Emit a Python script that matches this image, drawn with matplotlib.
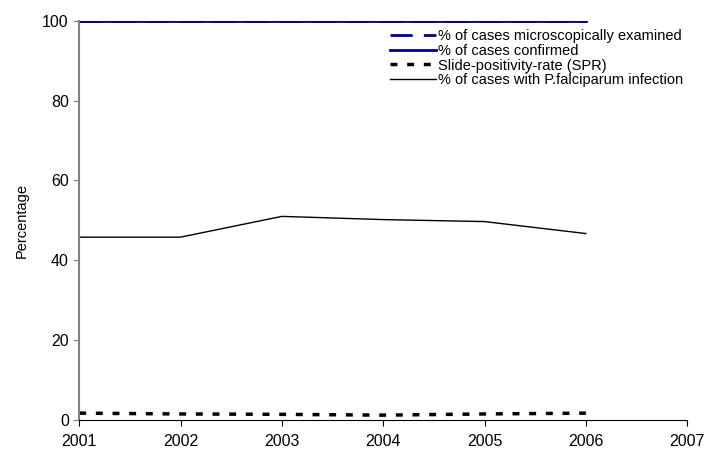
import matplotlib.pyplot as plt

plt.rcParams['font.family'] = ['Liberation Sans', 'DejaVu Sans']

years = [2001, 2002, 2003, 2004, 2005, 2006]
pct_examined = [100, 100, 100, 100, 100, 100]
pct_confirmed = [100, 100, 100, 100, 100, 100]
spr = [1.7, 1.5, 1.4, 1.2, 1.5, 1.7]
pct_pf = [45.8, 45.8, 51.0, 50.2, 49.7, 46.7]

fig = plt.figure(figsize=(7.07, 4.53), dpi=100)
ax = fig.add_axes([0.112, 0.073, 0.86, 0.881])

ax.plot(years, pct_examined, color='#00008B', linestyle=(0, (8, 4)), linewidth=2.0,
        label='% of cases microscopically examined')
ax.plot(years, pct_confirmed, color='#00008B', linewidth=2.0,
        label='% of cases confirmed')
ax.plot(years, spr, color='black', linestyle=(0, (2, 2.8)), linewidth=2.5,
        label='Slide-positivity-rate (SPR)')
ax.plot(years, pct_pf, color='black', linewidth=1,
        label='% of cases with P.falciparum infection')

ax.set_xlim(2001, 2007)
ax.set_ylim(0, 100)
ax.set_xticks(range(2001, 2008))
ax.set_yticks(range(0, 101, 20))
ax.set_ylabel('Percentage', fontsize=10.5, labelpad=10)
ax.tick_params(labelsize=11.5, length=4, color='#808080')
ax.tick_params(axis='x', pad=6, color='black')

for s in ['top', 'right']:
    ax.spines[s].set_visible(False)
ax.spines['left'].set_color('#808080')
ax.spines['left'].set_linewidth(1.5)
ax.spines['bottom'].set_color('black')

leg = ax.legend(loc='upper right', bbox_to_anchor=(1.01, 1.005), frameon=False,
                fontsize=10.5, handlelength=3.2, labelspacing=0.05,
                handletextpad=0.1, borderpad=0.2)

fig.savefig('out.png', dpi=100)
